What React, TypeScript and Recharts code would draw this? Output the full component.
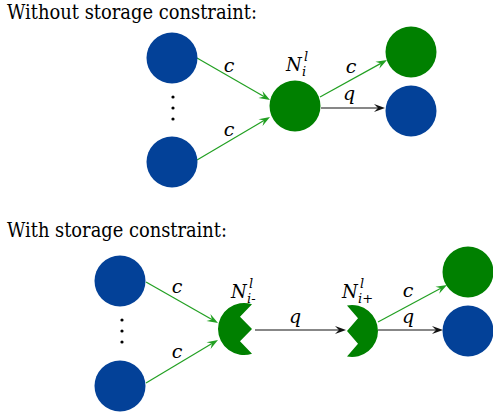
import { ScatterChart, Scatter, XAxis, YAxis, ReferenceLine } from "recharts";

const W = 493;
const H = 414;

const BLUE = "#034198";
const GREEN = "#008000";
const EDGE_GREEN = "#22a022";
const BLACK = "#111111";
const FONT = "DejaVu Serif";

// node centres, in picture units (x right, y down)
const blueNodes = [
  { x: 172, y: 58 },
  { x: 172, y: 162 },
  { x: 411, y: 111 },
  { x: 120, y: 281 },
  { x: 120, y: 386 },
  { x: 468, y: 331 },
];
const greenNodes = [
  { x: 295, y: 106 },
  { x: 411, y: 52 },
  { x: 468, y: 272 },
];
// split storage node: "in" half keeps the left arc, "out" half keeps the right arc
const splitNodes = [
  { x: 244, y: 329, side: "in" },
  { x: 352, y: 331, side: "out" },
];
const ellipsisDots = [
  { x: 173, y: 97 },
  { x: 173, y: 108 },
  { x: 173, y: 119 },
  { x: 122, y: 320 },
  { x: 122, y: 331 },
  { x: 122, y: 342 },
];

// flows: c = green, q = black
const edges = [
  { x1: 197, y1: 58, x2: 270, y2: 100, kind: "c" },
  { x1: 197, y1: 160, x2: 270, y2: 117, kind: "c" },
  { x1: 320, y1: 97, x2: 387, y2: 60, kind: "c" },
  { x1: 321, y1: 108, x2: 385, y2: 108, kind: "q" },
  { x1: 146, y1: 282, x2: 218, y2: 323, kind: "c" },
  { x1: 146, y1: 383, x2: 218, y2: 340, kind: "c" },
  { x1: 255, y1: 330, x2: 346, y2: 330, kind: "q" },
  { x1: 378, y1: 322, x2: 447, y2: 285, kind: "c" },
  { x1: 378, y1: 330, x2: 443, y2: 330, kind: "q" },
];

const edgeLetters = [
  { x: 229, y: 72, text: "c" },
  { x: 229, y: 136, text: "c" },
  { x: 351, y: 73, text: "c" },
  { x: 349, y: 100, text: "q" },
  { x: 177, y: 293, text: "c" },
  { x: 177, y: 358, text: "c" },
  { x: 295, y: 323, text: "q" },
  { x: 408, y: 297, text: "c" },
  { x: 408, y: 323, text: "q" },
];

// N with superscript l and a subscript
const nodeNames = [
  { x: 286, y: 71, sub: "i" },
  { x: 231, y: 298, sub: "i-" },
  { x: 342, y: 298, sub: "i+" },
];

const titles = [
  { x: 7, y: 19, text: "Without storage constraint:", len: 250 },
  { x: 7, y: 237, text: "With storage constraint:", len: 220 },
];

const R = 25.5;

const circleShape = (color: string) => (p: any) => (
  <circle cx={p.cx} cy={p.cy} r={R} fill={color} />
);

const dotShape = (p: any) => <circle cx={p.cx} cy={p.cy} r={1.6} fill="#000" />;

// circle with a chord cut off, and two notches cut into that chord
const splitShape = (p: any) => {
  const { cx, cy, payload } = p;
  const r = 26;
  const s = payload.side === "in" ? 1 : -1;
  const off = payload.side === "in" ? 8 : 5;
  const depth = payload.side === "in" ? 12 : 11;
  const h = Math.sqrt(r * r - off * off);
  const chordX = cx + s * off;
  const sweep = payload.side === "in" ? 0 : 1;
  const d = [
    `M ${chordX} ${cy - h}`,
    `A ${r} ${r} 0 1 ${sweep} ${chordX} ${cy + h}`,
    `L ${chordX - s * depth} ${cy + h / 2}`,
    `L ${chordX} ${cy}`,
    `L ${chordX - s * depth} ${cy - h / 2}`,
    "Z",
  ].join(" ");
  return <path d={d} fill={GREEN} />;
};

const arrowShape = (color: string) => (p: any) => {
  const { x1, y1, x2, y2 } = p;
  const dx = x2 - x1;
  const dy = y2 - y1;
  const len = Math.hypot(dx, dy) || 1;
  const ux = dx / len;
  const uy = dy / len;
  const nx = -uy;
  const ny = ux;
  const L = 11;
  const hw = 4;
  const notch = 7;
  const bx = x2 - ux * L;
  const by = y2 - uy * L;
  const mx = x2 - ux * notch;
  const my = y2 - uy * notch;
  const pts = `${x2},${y2} ${bx + nx * hw},${by + ny * hw} ${mx},${my} ${bx - nx * hw},${by - ny * hw}`;
  return (
    <g>
      <line x1={x1} y1={y1} x2={mx} y2={my} stroke={color} strokeWidth={1.2} />
      <polygon points={pts} fill={color} />
    </g>
  );
};

const letterShape = (p: any) => (
  <text
    x={p.cx}
    y={p.cy}
    textAnchor="middle"
    fontFamily={FONT}
    fontStyle="italic"
    fontSize={19}
    fill="#000"
  >
    {p.payload.text}
  </text>
);

const nameShape = (p: any) => (
  <g fontFamily={FONT} fontStyle="italic" fill="#000">
    <text x={p.cx} y={p.cy} fontSize={18}>N</text>
    <text x={p.cx + 18} y={p.cy - 10} fontSize={13}>l</text>
    <text x={p.cx + 16} y={p.cy + 5} fontSize={13}>{p.payload.sub}</text>
  </g>
);

const titleShape = (p: any) => (
  <text
    x={p.cx}
    y={p.cy}
    fontFamily={FONT}
    fontSize={21}
    textLength={p.payload.len}
    lengthAdjust="spacingAndGlyphs"
    fill="#000"
  >
    {p.payload.text}
  </text>
);

export default function App() {
  return (
    <div style={{ position: "absolute", left: 0, top: 0, width: W, height: H, background: "#fff" }}>
      <ScatterChart width={W} height={H} margin={{ top: 0, right: 0, bottom: 0, left: 0 }}>
        <XAxis type="number" dataKey="x" domain={[0, W]} hide />
        <YAxis type="number" dataKey="y" domain={[0, H]} reversed hide />
        {edges.map((e, i) => (
          <ReferenceLine
            key={`edge-${i}`}
            segment={[
              { x: e.x1, y: e.y1 },
              { x: e.x2, y: e.y2 },
            ]}
            shape={arrowShape(e.kind === "c" ? EDGE_GREEN : BLACK)}
          />
        ))}
        <Scatter data={blueNodes} shape={circleShape(BLUE)} isAnimationActive={false} />
        <Scatter data={greenNodes} shape={circleShape(GREEN)} isAnimationActive={false} />
        <Scatter data={splitNodes} shape={splitShape} isAnimationActive={false} />
        <Scatter data={ellipsisDots} shape={dotShape} isAnimationActive={false} />
        <Scatter data={edgeLetters} shape={letterShape} isAnimationActive={false} />
        <Scatter data={nodeNames} shape={nameShape} isAnimationActive={false} />
        <Scatter data={titles} shape={titleShape} isAnimationActive={false} />
      </ScatterChart>
    </div>
  );
}
